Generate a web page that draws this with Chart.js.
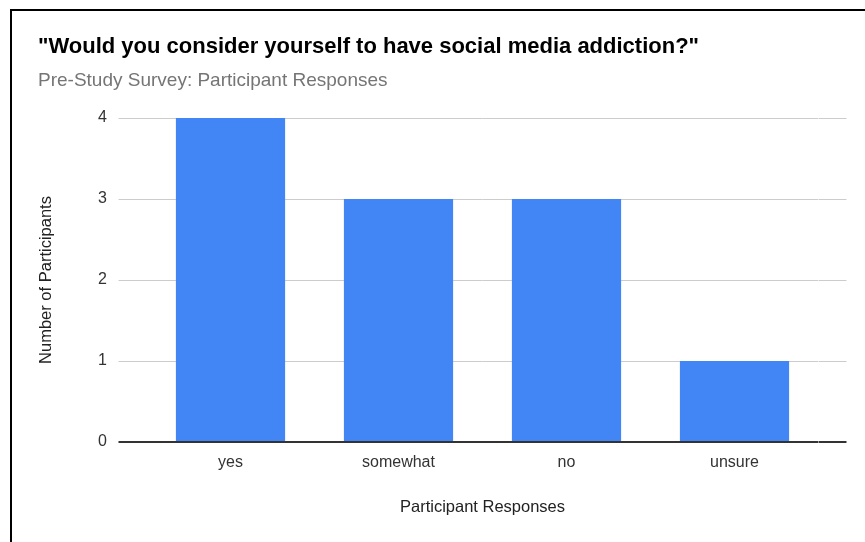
<!DOCTYPE html>
<html>
<head>
<meta charset="utf-8">
<script src="https://cdn.jsdelivr.net/npm/chart.js@4"></script>
<style>
  html, body { margin: 0; padding: 0; background: #fff; overflow: hidden; }
  #wrap { position: relative; width: 865px; height: 542px; }
  #frame { position: absolute; left: 10px; top: 9px; width: 900px; height: 600px;
           border-left: 2px solid #000; border-top: 2px solid #000; pointer-events: none; }
  canvas { position: absolute; left: 0; top: 0; }
</style>
</head>
<body>
<div id="wrap">
  <canvas id="chart" width="865" height="542"></canvas>
  <div id="frame"></div>
</div>
<script>
// Survey answers and participant counts
const categories = ['yes', 'somewhat', 'no', 'unsure'];
const participants = [4, 3, 3, 1];
const yTicks = [0, 1, 2, 3, 4];

const titleText = '"Would you consider yourself to have social media addiction?"';
const subtitleText = 'Pre-Study Survey: Participant Responses';
const xAxisTitle = 'Participant Responses';
const yAxisTitle = 'Number of Participants';

const FONT = 'Arial, "Liberation Sans", sans-serif';
const gridColor = ctx => (ctx.tick && ctx.tick.value === 0) ? '#333333' : '#cccccc';
const gridWidth = ctx => (ctx.tick && ctx.tick.value === 0) ? 2 : 1;

new Chart(document.getElementById('chart'), {
  type: 'bar',
  data: {
    labels: categories,
    datasets: [{
      data: participants,
      backgroundColor: '#4285f4',
      borderWidth: 0,
      categoryPercentage: 1.0,
      barPercentage: 0.65
    }]
  },
  options: {
    responsive: false,
    animation: false,
    layout: { padding: { top: 34, left: 38, right: 18.5, bottom: 21 } },
    plugins: {
      legend: { display: false },
      tooltip: { enabled: false },
      title: {
        display: true, text: titleText, align: 'start', color: '#000000',
        font: { family: FONT, size: 22, weight: 'bold', lineHeight: 1.2 },
        padding: { top: 0, bottom: 9.2 }
      },
      subtitle: {
        display: true, text: subtitleText, align: 'start', color: '#757575',
        font: { family: FONT, size: 19, lineHeight: 1.2 },
        padding: { top: 0, bottom: 25.6 }
      }
    },
    scales: {
      x: {
        afterFit: s => { s.height = 79; },
        grid: { display: false, drawTicks: false },
        border: { display: false },
        ticks: { color: '#333333', font: { family: FONT, size: 16, lineHeight: 1.2 }, padding: 11.4, maxRotation: 0 },
        title: {
          display: true, text: xAxisTitle, color: '#222222',
          font: { family: FONT, size: 16.5, lineHeight: 1.2 },
          padding: { top: 24, bottom: 4 }
        }
      },
      y: {
        min: 0, max: 4,
        afterBuildTicks: s => { s.ticks = yTicks.map(v => ({ value: v })); },
        afterFit: s => { s.width = 108.5; },
        grid: { color: gridColor, lineWidth: gridWidth, tickLength: 28, drawTicks: true },
        border: { display: false },
        ticks: { color: '#333333', font: { family: FONT, size: 16, lineHeight: 1.2 }, padding: 11.5 },
        title: {
          display: true, text: yAxisTitle, color: '#222222',
          font: { family: FONT, size: 16.5, lineHeight: 1.2 },
          padding: { top: -1, bottom: 4 }
        }
      },
      yRight: {
        position: 'right',
        min: 0, max: 4,
        afterBuildTicks: s => { s.ticks = yTicks.map(v => ({ value: v })); },
        afterFit: s => { s.width = 28; },
        grid: { color: gridColor, lineWidth: gridWidth, tickLength: 28, drawOnChartArea: false },
        border: { display: false },
        ticks: { display: false }
      }
    }
  }
});
</script>
</body>
</html>
